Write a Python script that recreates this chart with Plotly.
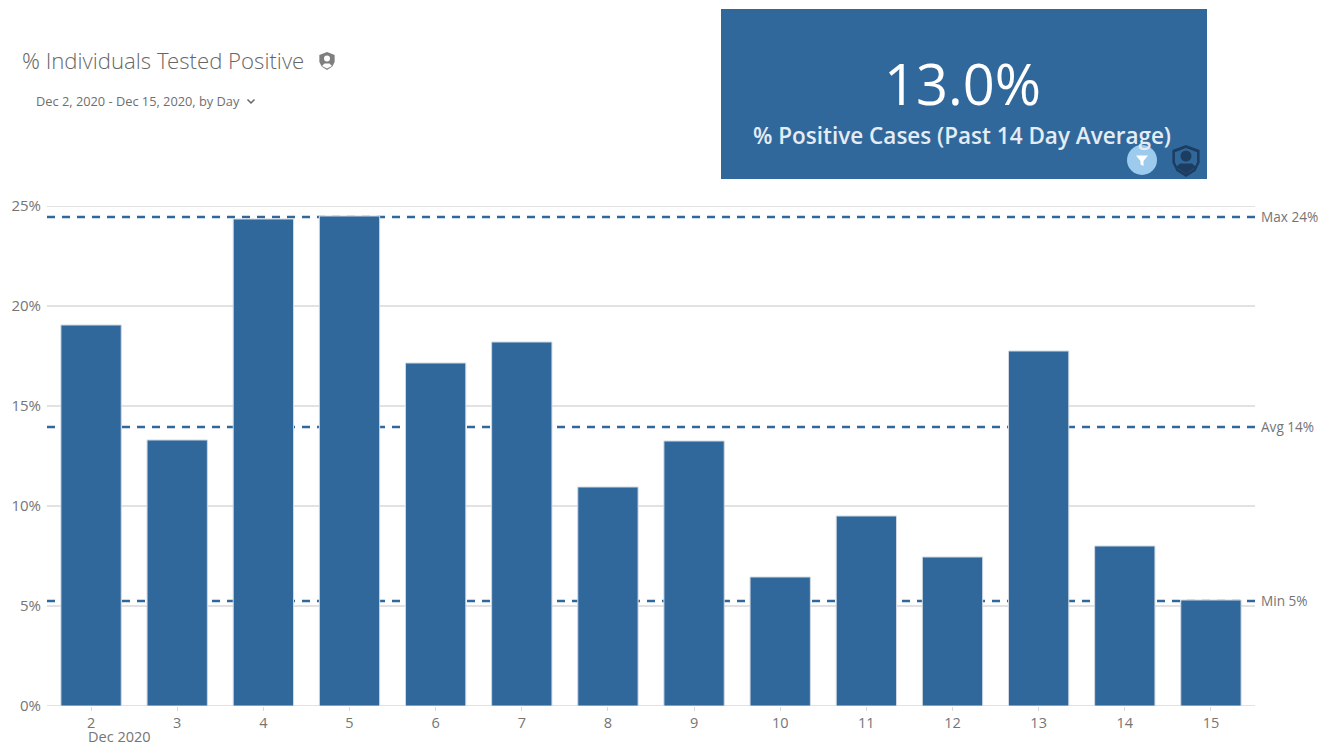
import plotly.graph_objects as go

W, H = 1325, 746
days = ["2", "3", "4", "5", "6", "7", "8", "9", "10", "11", "12", "13", "14", "15"]
pct_positive = [19.05, 13.3, 24.35, 24.5, 17.15, 18.2, 10.95, 13.25, 6.45, 9.5, 7.45, 17.75, 8.0, 5.3]
ref_labels = ["Max 24%", "Avg 14%", "Min 5%"]
ref_values = [24.45, 13.95, 5.25]
y_ticks = [0, 5, 10, 15, 20, 25]

BLUE = "#31689C"
FONT = "Open Sans"
GREY = "#757575"


def px(x):
    return x / W


def py(y):
    return 1 - y / H


def path(points, close=True):
    s = "M " + " L ".join(f"{px(x):.5f},{py(y):.5f}" for x, y in points)
    return s + (" Z" if close else "")


def shield(cx, cy, s):
    pts = [(0, -1), (0.85, -0.68), (0.85, 0.1), (0.6, 0.62), (0, 1), (-0.6, 0.62), (-0.85, 0.1), (-0.85, -0.68)]
    return path([(cx + a * s, cy + b * s) for a, b in pts])


def circle(cx, cy, r, color, line=None):
    return dict(type="circle", xref="paper", yref="paper", x0=px(cx - r), x1=px(cx + r),
                y0=py(cy + r), y1=py(cy - r), fillcolor=color, line=dict(width=0), layer="above")


fig = go.Figure(go.Bar(x=days, y=pct_positive, width=0.7, marker=dict(color=BLUE, line=dict(color="#cfd8e3", width=1))))

shapes = []
# gridlines run the full 47..1255 span, slightly past the category band
for t in y_ticks:
    shapes.append(dict(type="line", xref="paper", yref="y", x0=px(47), x1=px(1255), y0=t, y1=t,
                       line=dict(color="#d9d9d9", width=1.5), layer="below"))
for v in ref_values:
    shapes.append(dict(type="line", xref="paper", yref="y", x0=px(47), x1=px(1255), y0=v, y1=v,
                       line=dict(color=BLUE, width=2.4, dash="8px,7px"), layer="below"))

# KPI card
shapes.append(dict(type="rect", xref="paper", yref="paper", x0=px(721), x1=px(1207), y0=py(179), y1=py(9),
                   fillcolor=BLUE, line=dict(width=0), layer="above"))
# title shield
shapes.append(dict(type="path", xref="paper", yref="paper", path=shield(327, 61, 9), fillcolor="#7f7f7f",
                   line=dict(width=0), layer="above"))
shapes.append(circle(327, 58.5, 3, "#ffffff"))
shapes.append(dict(type="path", xref="paper", yref="paper",
                   path=path([(322, 66), (324.5, 63.5), (329.5, 63.5), (332, 66), (327, 68.5)]),
                   fillcolor="#ffffff", line=dict(width=0), layer="above"))
# chevron
shapes.append(dict(type="path", xref="paper", yref="paper", path=path([(247.5, 99.5), (251, 103), (254.5, 99.5)], close=False),
                   line=dict(color="#666666", width=1.5), layer="above"))
# filter badge
shapes.append(circle(1142, 160, 15, "#9CCBEE"))
shapes.append(dict(type="path", xref="paper", yref="paper",
                   path=path([(1136, 155.5), (1148, 155.5), (1143.5, 161), (1143.5, 166), (1140.5, 164.5), (1140.5, 161)]),
                   fillcolor="#ffffff", line=dict(width=0), layer="above"))
# dark shield badge
shapes.append(dict(type="path", xref="paper", yref="paper", path=shield(1186, 161, 16), fillcolor="#1D3D60",
                   line=dict(width=0), layer="above"))
shapes.append(dict(type="path", xref="paper", yref="paper", path=shield(1186, 161, 13), fillcolor=BLUE,
                   line=dict(width=0), layer="above"))
shapes.append(circle(1186, 156, 5.5, "#1D3D60"))
shapes.append(dict(type="path", xref="paper", yref="paper",
                   path=path([(1176, 167), (1180, 163.5), (1192, 163.5), (1196, 167), (1186, 174)]),
                   fillcolor="#1D3D60", line=dict(width=0), layer="above"))


def text(x, y, s, size, color, anchor="left", family=FONT, weight=None):
    f = dict(family=family, size=size, color=color)
    if weight:
        f["weight"] = weight
    return dict(xref="paper", yref="paper", x=px(x), y=py(y), text=s, showarrow=False, xanchor=anchor,
                yanchor="middle", align=anchor, font=f)


annotations = [
    text(20, 60, "% Individuals Tested Positive", 22.2, "#666666", family="Open Sans Light, Open Sans"),
    text(34, 101, "Dec 2, 2020 - Dec 15, 2020, by Day", 12.8, "#6f6f6f"),
    text(962, 83, "13.0%", 56, "#ffffff", "center"),
    text(962, 135, "% Positive Cases (Past 14 Day Average)", 22.5, "#e4ecf4", "center", weight=600),
    text(120, 736.5, "Dec 2020", 14.5, GREY, "center"),
]
for lab, v in zip(ref_labels, ref_values):
    annotations.append(dict(xref="paper", yref="y", x=px(1259), y=v, text=lab, showarrow=False, xanchor="left",
                            yanchor="middle", yshift=0.5, font=dict(family=FONT, size=13.6, color="#757575")))

fig.update_layout(
    width=W, height=H, margin=dict(l=0, r=0, t=0, b=0, autoexpand=False), autosize=False,
    paper_bgcolor="#ffffff", plot_bgcolor="#ffffff", showlegend=False,
    shapes=shapes, annotations=annotations, font=dict(family=FONT),
    xaxis=dict(domain=[px(48), px(1254)], type="category", range=[-0.5, 13.5], showgrid=False,
               ticks="outside", ticklen=4, tickcolor="#d9d9d9", tickwidth=1, showline=False,
               tickfont=dict(family=FONT, size=14.5, color=GREY), fixedrange=True),
    yaxis=dict(domain=[py(706), py(206)], range=[0, 25], tickvals=y_ticks, ticktext=[f"{t}%" for t in y_ticks],
               showgrid=False, zeroline=False, showline=False, ticks="outside",
               ticklen=3, tickcolor="rgba(0,0,0,0)", tickfont=dict(family=FONT, size=15, color=GREY), fixedrange=True),
)

fig.write_html("out.html", config=dict(displayModeBar=False),
               post_script="document.body.style.margin='0';")
